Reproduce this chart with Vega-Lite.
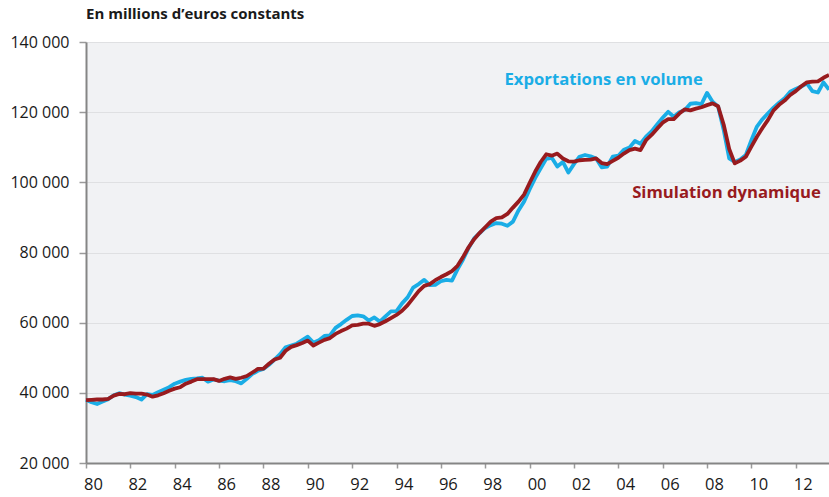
{
  "$schema": "https://vega.github.io/schema/vega-lite/v6.json",
  "width": 743,
  "height": 421,
  "autosize": {"type": "none"},
  "padding": {"left": 86, "top": 42, "right": 0, "bottom": 34},
  "background": "white",
  "title": {"text": "En millions d’euros constants", "anchor": "start", "frame": "group", "font": "Open Sans", "fontSize": 15, "fontWeight": "bold", "color": "#1a1a1a", "offset": 12},
  "config": {
    "view": {"stroke": null, "fill": "#f1f2f4"},
    "font": "Open Sans"
  },
  "datasets": {
    "series": [
      {"t": 1980.0, "e": 38000, "sim": 37900},
      {"t": 1980.25, "e": 37300, "sim": 38000},
      {"t": 1980.5, "e": 36800, "sim": 38100},
      {"t": 1980.75, "e": 37500, "sim": 38100},
      {"t": 1981.0, "e": 38200, "sim": 38300},
      {"t": 1981.25, "e": 39300, "sim": 39200},
      {"t": 1981.5, "e": 39900, "sim": 39700},
      {"t": 1981.75, "e": 39500, "sim": 39600},
      {"t": 1982.0, "e": 39200, "sim": 39900},
      {"t": 1982.25, "e": 38800, "sim": 39800},
      {"t": 1982.5, "e": 38100, "sim": 39800},
      {"t": 1982.75, "e": 39600, "sim": 39500},
      {"t": 1983.0, "e": 39400, "sim": 38900},
      {"t": 1983.25, "e": 40200, "sim": 39300},
      {"t": 1983.5, "e": 40900, "sim": 39900},
      {"t": 1983.75, "e": 41600, "sim": 40600},
      {"t": 1984.0, "e": 42600, "sim": 41200},
      {"t": 1984.25, "e": 43200, "sim": 41600},
      {"t": 1984.5, "e": 43700, "sim": 42600},
      {"t": 1984.75, "e": 44000, "sim": 43200},
      {"t": 1985.0, "e": 44100, "sim": 43900},
      {"t": 1985.25, "e": 44300, "sim": 43900},
      {"t": 1985.5, "e": 43200, "sim": 43900},
      {"t": 1985.75, "e": 43800, "sim": 43900},
      {"t": 1986.0, "e": 43500, "sim": 43400},
      {"t": 1986.25, "e": 43300, "sim": 44000},
      {"t": 1986.5, "e": 43600, "sim": 44400},
      {"t": 1986.75, "e": 43300, "sim": 44000},
      {"t": 1987.0, "e": 42700, "sim": 44300},
      {"t": 1987.25, "e": 44000, "sim": 44800},
      {"t": 1987.5, "e": 45400, "sim": 45800},
      {"t": 1987.75, "e": 46300, "sim": 46800},
      {"t": 1988.0, "e": 46800, "sim": 46900},
      {"t": 1988.25, "e": 48000, "sim": 48300},
      {"t": 1988.5, "e": 49500, "sim": 49500},
      {"t": 1988.75, "e": 51000, "sim": 50000},
      {"t": 1989.0, "e": 53000, "sim": 52000},
      {"t": 1989.25, "e": 53500, "sim": 53100},
      {"t": 1989.5, "e": 54000, "sim": 53600},
      {"t": 1989.75, "e": 55000, "sim": 54200},
      {"t": 1990.0, "e": 56000, "sim": 54900},
      {"t": 1990.25, "e": 54300, "sim": 53500},
      {"t": 1990.5, "e": 55000, "sim": 54300},
      {"t": 1990.75, "e": 56200, "sim": 55100},
      {"t": 1991.0, "e": 56400, "sim": 55600},
      {"t": 1991.25, "e": 58500, "sim": 56800},
      {"t": 1991.5, "e": 59600, "sim": 57600},
      {"t": 1991.75, "e": 60800, "sim": 58300},
      {"t": 1992.0, "e": 61900, "sim": 59200},
      {"t": 1992.25, "e": 62100, "sim": 59400},
      {"t": 1992.5, "e": 61800, "sim": 59700},
      {"t": 1992.75, "e": 60600, "sim": 59700},
      {"t": 1993.0, "e": 61500, "sim": 59100},
      {"t": 1993.25, "e": 60300, "sim": 59600},
      {"t": 1993.5, "e": 61800, "sim": 60400},
      {"t": 1993.75, "e": 63200, "sim": 61300},
      {"t": 1994.0, "e": 63300, "sim": 62200},
      {"t": 1994.25, "e": 65500, "sim": 63400},
      {"t": 1994.5, "e": 67200, "sim": 65000},
      {"t": 1994.75, "e": 70000, "sim": 67000},
      {"t": 1995.0, "e": 71000, "sim": 69000},
      {"t": 1995.25, "e": 72200, "sim": 70500},
      {"t": 1995.5, "e": 70700, "sim": 71000},
      {"t": 1995.75, "e": 70800, "sim": 72100},
      {"t": 1996.0, "e": 71800, "sim": 73000},
      {"t": 1996.25, "e": 72200, "sim": 73800},
      {"t": 1996.5, "e": 72000, "sim": 74700},
      {"t": 1996.75, "e": 75200, "sim": 76200},
      {"t": 1997.0, "e": 78000, "sim": 78700},
      {"t": 1997.25, "e": 81300, "sim": 81500},
      {"t": 1997.5, "e": 84000, "sim": 83800},
      {"t": 1997.75, "e": 85500, "sim": 85600},
      {"t": 1998.0, "e": 87000, "sim": 87200},
      {"t": 1998.25, "e": 87800, "sim": 88800},
      {"t": 1998.5, "e": 88400, "sim": 89800},
      {"t": 1998.75, "e": 88200, "sim": 90000},
      {"t": 1999.0, "e": 87600, "sim": 91000},
      {"t": 1999.25, "e": 88800, "sim": 92800},
      {"t": 1999.5, "e": 92000, "sim": 94500},
      {"t": 1999.75, "e": 94500, "sim": 96500},
      {"t": 2000.0, "e": 98000, "sim": 99800},
      {"t": 2000.25, "e": 101200, "sim": 103000},
      {"t": 2000.5, "e": 104000, "sim": 105800},
      {"t": 2000.75, "e": 106700, "sim": 108000},
      {"t": 2001.0, "e": 107000, "sim": 107600},
      {"t": 2001.25, "e": 104500, "sim": 108200},
      {"t": 2001.5, "e": 105800, "sim": 106800},
      {"t": 2001.75, "e": 102800, "sim": 106000},
      {"t": 2002.0, "e": 105200, "sim": 105900},
      {"t": 2002.25, "e": 107300, "sim": 106300},
      {"t": 2002.5, "e": 107800, "sim": 106400},
      {"t": 2002.75, "e": 107400, "sim": 106500},
      {"t": 2003.0, "e": 106800, "sim": 106800},
      {"t": 2003.25, "e": 104300, "sim": 105500},
      {"t": 2003.5, "e": 104500, "sim": 105200},
      {"t": 2003.75, "e": 107300, "sim": 106100},
      {"t": 2004.0, "e": 107600, "sim": 107000},
      {"t": 2004.25, "e": 109300, "sim": 108200},
      {"t": 2004.5, "e": 109900, "sim": 109200},
      {"t": 2004.75, "e": 111800, "sim": 109600},
      {"t": 2005.0, "e": 111000, "sim": 109200},
      {"t": 2005.25, "e": 113000, "sim": 112000},
      {"t": 2005.5, "e": 114500, "sim": 113500},
      {"t": 2005.75, "e": 116500, "sim": 115300},
      {"t": 2006.0, "e": 118400, "sim": 117000},
      {"t": 2006.25, "e": 120100, "sim": 118000},
      {"t": 2006.5, "e": 118700, "sim": 118000},
      {"t": 2006.75, "e": 120000, "sim": 119600},
      {"t": 2007.0, "e": 120600, "sim": 120800},
      {"t": 2007.25, "e": 122400, "sim": 120500},
      {"t": 2007.5, "e": 122600, "sim": 121000},
      {"t": 2007.75, "e": 122300, "sim": 121400},
      {"t": 2008.0, "e": 125500, "sim": 122000},
      {"t": 2008.25, "e": 123000, "sim": 122500},
      {"t": 2008.5, "e": 121600, "sim": 121700},
      {"t": 2008.75, "e": 115000, "sim": 116500},
      {"t": 2009.0, "e": 106800, "sim": 109500},
      {"t": 2009.25, "e": 105800, "sim": 105400},
      {"t": 2009.5, "e": 106500, "sim": 106200},
      {"t": 2009.75, "e": 107800, "sim": 107300},
      {"t": 2010.0, "e": 112000, "sim": 110200},
      {"t": 2010.25, "e": 115900, "sim": 113000},
      {"t": 2010.5, "e": 118000, "sim": 115500},
      {"t": 2010.75, "e": 119700, "sim": 117800},
      {"t": 2011.0, "e": 121300, "sim": 120500},
      {"t": 2011.25, "e": 122700, "sim": 122100},
      {"t": 2011.5, "e": 124000, "sim": 123300},
      {"t": 2011.75, "e": 125800, "sim": 124900},
      {"t": 2012.0, "e": 126600, "sim": 126000},
      {"t": 2012.25, "e": 127300, "sim": 127400},
      {"t": 2012.5, "e": 128200, "sim": 128500},
      {"t": 2012.75, "e": 126000, "sim": 128700},
      {"t": 2013.0, "e": 125600, "sim": 128800},
      {"t": 2013.25, "e": 128500, "sim": 129800},
      {"t": 2013.5, "e": 126400, "sim": 130600}
    ],
    "labels": [
      {"t": 2003.34, "v": 129300, "label": "Exportations en volume", "c": "e"},
      {"t": 2008.88, "v": 97000, "label": "Simulation dynamique", "c": "s"}
    ]
  },
  "layer": [
    {
      "data": {"name": "series"},
      "mark": {"type": "line", "color": "#1aade6", "strokeWidth": 3.8, "strokeJoin": "round"},
      "encoding": {
        "x": {
          "field": "t", "type": "quantitative",
          "scale": {"domain": [1980, 2013.5], "nice": false, "zero": false},
          "axis": {
            "title": null,
            "values": [1980, 1982, 1984, 1986, 1988, 1990, 1992, 1994, 1996, 1998, 2000, 2002, 2004, 2006, 2008, 2010, 2012],
            "labelExpr": "format(datum.value % 100, '02d')",
            "grid": false,
            "domainColor": "#858585", "domainWidth": 2,
            "tickColor": "#9a9a9a", "tickSize": 5, "tickWidth": 1.5,
            "labelFont": "Open Sans", "labelFontSize": 16.5, "labelColor": "#1a1a1a",
            "labelPadding": 8, "labelOffset": 7, "labelFlush": false, "labelOverlap": false
          }
        },
        "y": {
          "field": "e", "type": "quantitative",
          "scale": {"domain": [20000, 140000], "nice": false, "zero": false},
          "axis": {
            "title": null,
            "values": [20000, 40000, 60000, 80000, 100000, 120000, 140000],
            "labelExpr": "replace(format(datum.value, ','), ',', ' ')",
            "grid": true, "gridColor": "#dfe0e2", "gridWidth": 1.2,
            "domainColor": "#858585", "domainWidth": 2,
            "tickColor": "#9a9a9a", "tickSize": 7, "tickWidth": 1.5,
            "labelFont": "Open Sans", "labelFontSize": 16, "labelColor": "#1a1a1a",
            "labelPadding": 10, "labelFlush": false, "labelOverlap": false
          }
        }
      }
    },
    {
      "data": {"name": "series"},
      "mark": {"type": "line", "color": "#981b1e", "strokeWidth": 3.8, "strokeJoin": "round"},
      "encoding": {
        "x": {"field": "t", "type": "quantitative"},
        "y": {"field": "sim", "type": "quantitative"}
      }
    },
    {
      "data": {"name": "labels"},
      "mark": {"type": "text", "font": "Open Sans", "fontSize": 16.7, "fontWeight": "bold", "align": "center", "baseline": "middle"},
      "encoding": {
        "x": {"field": "t", "type": "quantitative"},
        "y": {"field": "v", "type": "quantitative"},
        "text": {"field": "label"},
        "color": {"field": "c", "type": "nominal", "scale": {"domain": ["e", "s"], "range": ["#1aade6", "#981b1e"]}, "legend": null}
      }
    }
  ]
}
